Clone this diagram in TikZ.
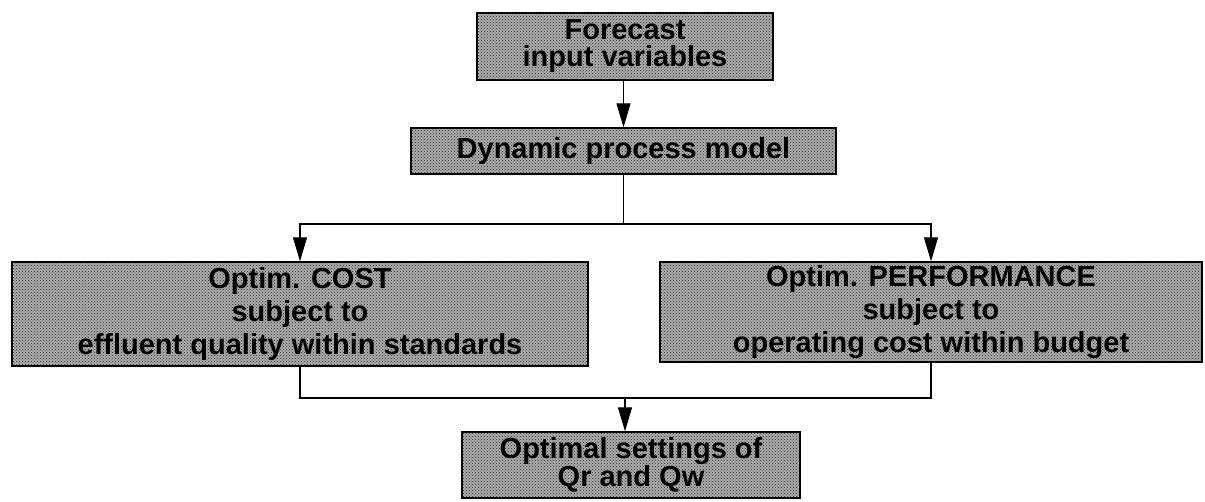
\documentclass[tikz,border=0pt]{standalone}
\usepackage{fontspec}
\setmainfont{Liberation Sans}
\usetikzlibrary{arrows.meta,patterns}

\begin{document}
\begin{tikzpicture}[x=1pt,y=-1pt,>={Triangle[length=24pt,width=14pt]},line join=miter]
\tikzset{blk/.style={draw=black,line width=1.4pt,preaction={fill=black!32},pattern=crosshatch dots,pattern color=black!85,inner sep=0pt,align=center,font=\bfseries\fontsize{29}{27}\selectfont},
tallblk/.style={blk,font=\bfseries\fontsize{29}{33}\selectfont},
link/.style={draw=black,line width=1.2pt}}
\useasboundingbox[fill=white] (0,0) rectangle (1205,501);
% boxes
\node[blk,minimum width=296pt,minimum height=67pt] (fcst) at (625,46.5) {Forecast\\input variables};
\node[blk,minimum width=425pt,minimum height=46pt] (dyn) at (623.5,151) {Dynamic process model};
\node[tallblk,minimum width=576pt,minimum height=104pt] (cost) at (300,314) {Optim. COST\\subject to\\effluent quality within standards};
\node[tallblk,minimum width=542pt,minimum height=100pt] (perf) at (931,312) {Optim. PERFORMANCE\\subject to\\operating cost within budget};
\node[blk,minimum width=338pt,minimum height=66pt] (qset) at (631,465) {Optimal settings of\\Qr and Qw};
% connectors
\coordinate (split) at (623.5,224);
\coordinate (merge) at (625,398);
\draw[link,->] (fcst.south -| dyn.north) -- (dyn.north);
\draw[link] (dyn.south) -- (split);
\draw[link,->] (split) -| (cost.north);
\draw[link,->] (split) -| (perf.north);
\draw[link] (cost.south) |- (merge);
\draw[link] (perf.south) |- (merge);
\draw[link,->] (merge) -- (merge |- qset.north);
\end{tikzpicture}
\end{document}
